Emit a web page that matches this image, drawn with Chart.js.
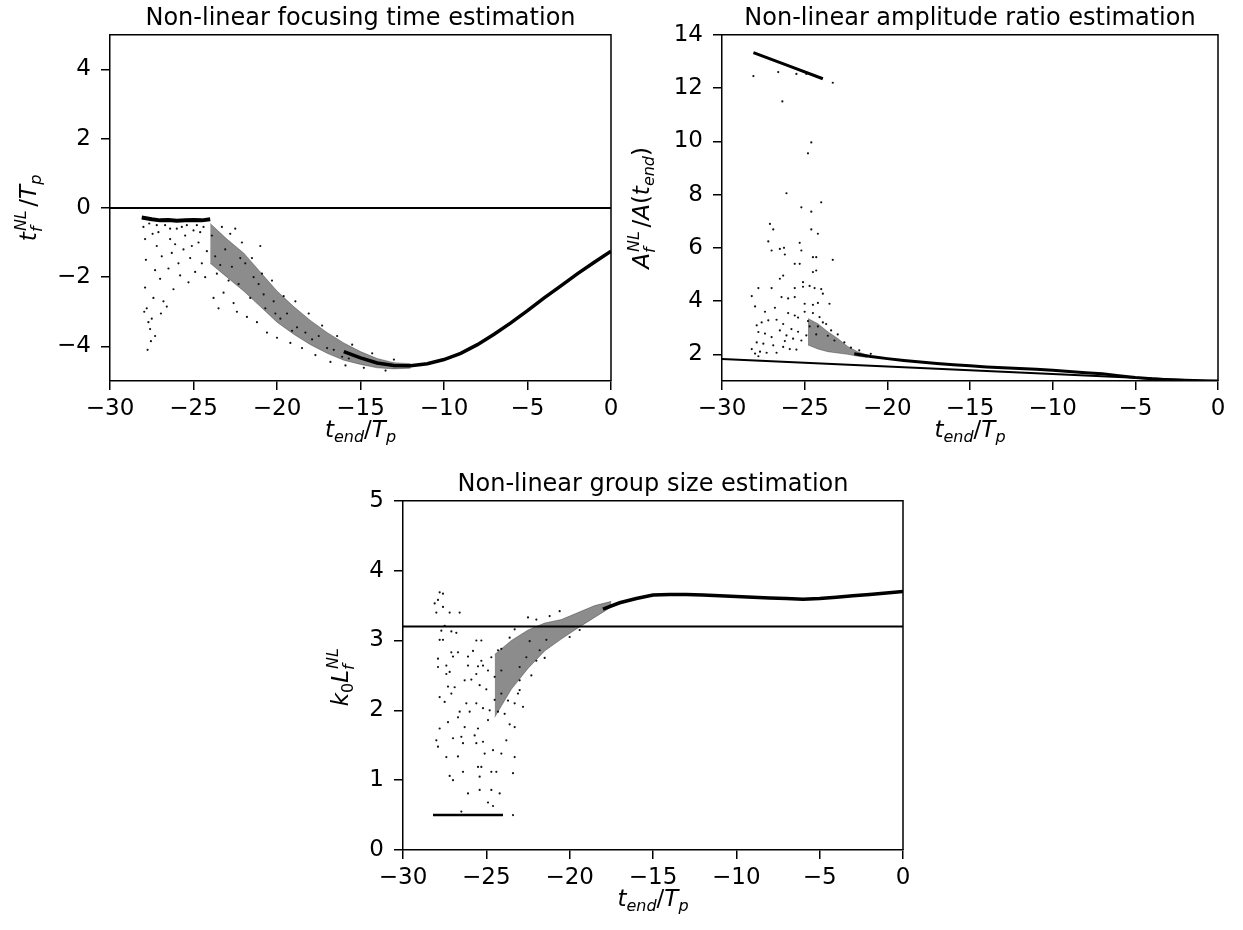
<!DOCTYPE html>
<html><head><meta charset="utf-8">
<script src="https://cdn.jsdelivr.net/npm/chart.js@4.4.1/dist/chart.umd.min.js"></script>
<style>
html,body{margin:0;padding:0;background:#fff;overflow:hidden;width:1243px;height:930px;position:relative}
canvas{position:absolute}
</style></head><body>
<canvas id="c1" width="721" height="470" style="left:0px;top:0px"></canvas>
<canvas id="c2" width="700" height="470" style="left:620px;top:0px"></canvas>
<canvas id="c3" width="706" height="464" style="left:300px;top:466px"></canvas>
<script>
// ---------- text ----------
const title1 = 'Non-linear focusing time estimation';
const title2 = 'Non-linear amplitude ratio estimation';
const title3 = 'Non-linear group size estimation';
const xLabelRuns = [['t','i'],['end','sb'],['/','r'],['T','i'],['p','sb']];
const y1LabelRuns = [['t','i'],['NL|f','ss'],['/','r'],['T','i'],['p','sb']];
const y2LabelRuns = [['A','i'],['NL|f','ss'],['/','r'],['A','i'],['(','r'],['t','i'],['end','sb'],[')','r']];
const y3LabelRuns = [['k','i'],['0','sbr'],['L','i'],['NL|f','ss']];

// ---------- tick values ----------
const xTicks = [-30, -25, -20, -15, -10, -5, 0];
const y1Ticks = [-4, -2, 0, 2, 4];
const y2Ticks = [2, 4, 6, 8, 10, 12, 14];
const y3Ticks = [0, 1, 2, 3, 4, 5];

// ---------- chart 1: focusing time ----------
const tfZeroX = [-30, 0];
const tfZeroY = [0, 0];
const tfFlatX = [-28.1, -27.5, -27, -26.5, -26, -25.5, -25, -24.5, -24.0];
const tfFlatY = [-0.28, -0.33, -0.36, -0.35, -0.37, -0.36, -0.35, -0.36, -0.33];
const tfBandX = [-24, -23, -22, -21, -20, -19, -18, -17, -16, -15, -14, -13, -12];
const tfBandHi = [-0.45, -0.9, -1.3, -1.85, -2.4, -2.85, -3.25, -3.6, -3.9, -4.15, -4.35, -4.47, -4.5];
const tfBandLo = [-1.6, -2.0, -2.4, -2.85, -3.3, -3.65, -3.95, -4.2, -4.4, -4.52, -4.62, -4.65, -4.63];
const tfCurveX = [-16, -15, -14, -13, -12, -11, -10, -9, -8, -7, -6, -5, -4, -3, -2, -1, 0];
const tfCurveY = [-4.15, -4.33, -4.48, -4.55, -4.56, -4.5, -4.38, -4.2, -3.95, -3.65, -3.32, -2.97, -2.6, -2.25, -1.9, -1.57, -1.25];
const tfDots = [
[-28.0,-0.55],[-27.9,-0.9],[-27.85,-1.5],[-27.9,-2.3],[-27.8,-2.9],[-27.7,-3.3],[-27.75,-4.1],[-27.6,-3.5],[-27.5,-3.2],[-27.55,-3.85],
[-27.4,-2.6],[-27.3,-1.8],[-27.2,-1.1],[-27.1,-0.7],[-27.0,-2.05],[-26.9,-1.4],[-26.8,-2.7],[-26.6,-2.85],[-26.5,-1.75],[-26.4,-0.9],
[-26.3,-1.3],[-26.2,-2.35],[-26.0,-0.6],[-25.9,-1.6],[-25.8,-1.95],[-25.6,-1.2],[-25.5,-0.8],[-25.3,-2.15],[-25.2,-1.45],[-25.0,-0.65],
[-24.9,-1.85],[-24.7,-1.0],[-24.5,-1.6],[-24.4,-0.55],[-24.3,-2.0],[-24.2,-1.25],[-27.65,-0.45],[-27.45,-0.75],[-26.7,-0.5],[-26.1,-1.05],
[-27.95,-3.0],[-27.3,-3.7],[-26.95,-3.05],[-25.7,-0.55],[-24.8,-0.5],[-25.1,-1.1],[-27.2,-0.5],[-26.4,-0.6],[-25.4,-0.5],[-24.6,-0.7],
[-23.8,-2.6],[-23.5,-2.9],[-23.3,-0.55],[-23.2,-2.45],[-22.8,-0.75],[-22.6,-2.75],[-22.4,-3.0],[-22.1,-1.0],[-21.8,-3.15],[-21.5,-1.45],
[-21.2,-3.3],[-20.9,-1.9],[-20.6,-3.6],[-20.3,-2.1],[-20.0,-3.75],[-19.6,-2.55],[-19.2,-3.9],[-18.9,-2.7],[-18.5,-4.05],[-18.1,-3.05],
[-17.7,-4.25],[-17.3,-3.4],[-16.8,-4.45],[-16.4,-3.7],[-15.9,-4.55],[-15.5,-3.95],[-14.8,-4.62],[-14.3,-4.2],[-13.5,-4.7],[-13.0,-4.38],
[-23.9,-0.8],[-23.6,-1.9],[-23.1,-1.2],[-22.7,-1.7],[-22.3,-2.2],[-21.9,-1.6],[-21.6,-2.6],[-21.1,-2.2],[-20.7,-2.9],[-20.2,-2.7],
[-19.8,-3.2],[-19.4,-3.05],[-18.8,-3.45],[-18.3,-3.6],[-17.9,-3.8],[-17.5,-3.7],[-17.0,-4.05],[-16.6,-4.1],[-16.1,-4.3],[-15.7,-4.35],
[-22.5,-0.6],[-21.0,-1.1],[-23.7,-1.4],[-23.4,-1.65],[-22.9,-2.1],[-22.2,-1.45],[-21.4,-2.0],[-20.8,-2.5],[-20.1,-3.05],[-19.1,-3.55]
];

// ---------- chart 2: amplitude ratio ----------
const arLineX = [-30, 0];
const arLineY = [1.83, 0.98];
const arTopX = [-28.1, -26.0, -23.9];
const arTopY = [13.33, 12.84, 12.35];
const arBandX = [-24.8, -24.2, -23.6, -23.0, -22.4, -21.8, -21.2];
const arBandHi = [3.35, 3.15, 2.85, 2.6, 2.3, 2.1, 1.97];
const arBandLo = [2.35, 2.2, 2.1, 2.05, 2.0, 1.93, 1.88];
const arCurveX = [-22, -21, -20, -19, -18, -17, -16, -15, -14, -13, -12, -11, -10, -9, -8, -7, -6, -5, -4, -3, -2, -1, 0];
const arCurveY = [2.02, 1.92, 1.84, 1.77, 1.71, 1.66, 1.61, 1.57, 1.53, 1.5, 1.47, 1.44, 1.4, 1.36, 1.31, 1.27, 1.2, 1.13, 1.08, 1.05, 1.03, 1.01, 1.0];
const arDots = [
[-28.1,12.45],[-26.6,12.6],[-25.5,12.53],[-24.9,12.53],[-23.3,12.2],[-26.35,11.5],[-24.6,9.96],[-24.8,9.55],[-26.1,8.05],[-25.2,7.52],
[-24.0,7.71],[-24.6,7.36],[-27.1,6.9],[-26.9,6.69],[-24.6,6.69],[-24.2,6.53],[-27.2,6.24],[-25.3,6.19],[-27.0,5.9],[-26.5,5.96],
[-26.25,6.0],[-25.2,5.9],[-24.5,5.65],[-24.3,5.65],[-26.2,5.75],[-25.6,5.4],[-25.3,5.4],[-24.5,5.09],[-24.3,5.15],[-23.3,5.55],
[-26.5,4.84],[-26.3,4.96],[-27.8,4.49],[-27.0,4.49],[-25.6,4.49],[-25.1,4.71],[-25.1,4.54],[-24.7,4.57],[-24.4,4.49],[-24.0,4.45],
[-23.9,4.28],[-28.2,4.19],[-26.4,4.15],[-26.0,4.1],[-25.6,4.15],[-28.0,3.8],[-25.0,3.9],[-24.5,3.86],[-24.2,3.93],[-23.5,3.9],
[-27.9,3.09],[-27.6,3.2],[-27.2,3.28],[-26.7,3.3],[-26.3,3.14],[-25.6,3.46],[-25.4,3.38],[-25.0,3.6],[-24.5,3.55],[-24.1,3.4],
[-23.9,3.2],[-27.8,2.84],[-27.4,2.78],[-27.0,2.65],[-26.5,2.9],[-26.1,2.71],[-25.7,2.59],[-25.2,2.52],[-24.9,2.71],[-27.9,2.45],
[-27.5,2.4],[-26.9,2.34],[-26.3,2.28],[-25.9,2.2],[-28.2,2.2],[-28.0,2.03],[-27.8,1.93],[-27.7,2.1],[-27.3,2.06],[-26.7,2.06],
[-25.5,2.18],[-23.7,3.14],[-23.4,2.9],[-23.2,2.52],[-27.4,3.6],[-26.8,3.75],[-26.0,3.55],[-25.8,2.95],[-24.7,3.05],[-24.3,2.75],
[-23.0,2.75],[-22.6,2.45],[-22.2,2.25],[-21.7,2.15],[-21.0,2.02],[-26.2,2.5],[-25.4,2.85],[-24.8,3.25],[-24.2,3.05],[-23.6,2.7]
];

// ---------- chart 3: group size ----------
const ksRefX = [-30, 0];
const ksRefY = [3.2, 3.2];
const ksFlatX = [-28.2, -26.0, -24.0];
const ksFlatY = [0.5, 0.5, 0.5];
const ksBandX = [-24.5, -23.5, -22.5, -21.5, -20.5, -19.5, -18.5, -17.5];
const ksBandHi = [2.8, 3.0, 3.15, 3.25, 3.3, 3.4, 3.5, 3.56];
const ksBandLo = [1.9, 2.3, 2.6, 2.85, 3.02, 3.18, 3.33, 3.48];
const ksCurveX = [-18, -17, -16, -15, -14, -13, -12, -11, -10, -9, -8, -7, -6, -5, -4, -3, -2, -1, 0];
const ksCurveY = [3.45, 3.54, 3.6, 3.65, 3.66, 3.66, 3.65, 3.64, 3.63, 3.62, 3.61, 3.6, 3.59, 3.6, 3.62, 3.64, 3.66, 3.68, 3.7];
const ksDots = [
[-27.8,3.69],[-27.6,3.67],[-28.1,3.53],[-27.9,3.58],[-27.6,3.48],[-28.0,3.4],[-27.2,3.4],[-26.6,3.4],[-27.5,3.21],[-27.7,3.14],
[-27.1,3.13],[-26.8,3.11],[-27.8,3.01],[-27.6,3.01],[-25.6,3.0],[-25.3,3.0],[-27.1,2.83],[-26.7,2.83],[-25.8,2.85],[-27.9,2.74],
[-27.0,2.77],[-26.1,2.77],[-27.4,2.64],[-27.9,2.62],[-26.1,2.64],[-25.5,2.63],[-25.2,2.64],[-27.4,2.52],[-27.2,2.55],[-26.3,2.43],
[-25.9,2.44],[-25.6,2.52],[-27.3,2.34],[-26.9,2.33],[-25.4,2.36],[-27.8,2.19],[-27.5,2.12],[-27.1,2.24],[-26.2,2.1],[-26.6,1.98],
[-26.0,1.98],[-25.6,2.1],[-25.2,2.03],[-27.3,1.83],[-26.7,1.9],[-27.8,1.74],[-26.3,1.76],[-25.5,1.74],[-24.9,1.86],[-27.0,1.6],
[-26.5,1.62],[-25.7,1.64],[-25.2,1.55],[-28.0,1.57],[-27.9,1.48],[-26.4,1.53],[-25.6,1.53],[-27.4,1.33],[-26.7,1.34],[-25.1,1.38],
[-24.6,1.43],[-25.5,1.19],[-25.3,1.19],[-27.2,1.06],[-27.0,1.0],[-26.4,1.12],[-24.7,1.12],[-25.4,1.05],[-24.4,1.12],[-26.1,0.81],
[-25.4,0.86],[-24.7,0.86],[-24.2,0.81],[-24.9,0.68],[-24.6,0.63],[-23.4,0.5],[-26.5,0.55],[-23.4,1.1],[-23.3,1.33],[-23.3,1.76],
[-23.8,1.57],[-24.1,1.38],[-23.9,1.95],[-24.3,1.98],[-24.5,2.15],[-24.1,2.24],[-23.7,2.14],[-23.3,2.1],[-23.1,2.24],[-24.5,2.48],
[-24.1,2.57],[-24.9,2.57],[-24.3,2.86],[-25.3,2.71],[-24.7,2.76],[-24.1,2.88],[-23.3,3.16],[-23.6,3.04],[-22.5,3.33],[-22.4,2.99],
[-22.0,2.71],[-23.0,2.62],[-22.6,2.76],[-21.8,2.86],[-21.4,3.01],[-23.0,2.43],[-23.0,2.29],[-22.0,3.3],[-21.2,3.35],[-20.6,3.42],
[-20.0,3.05],[-19.4,3.15],[-21.5,2.75],[-25.0,2.3],[-24.8,2.0],[-23.6,1.8],[-22.8,2.05],[-22.3,2.5]
];

// ---------- helpers ----------
const FAM = '"DejaVu Sans", sans-serif';
const pts = (xs, ys) => xs.map((x, i) => ({x: x, y: ys[i]}));
const pairs = arr => arr.map(p => ({x: p[0], y: p[1]}));
const fmt = v => (v < 0 ? '\u2212' + Math.abs(v) : String(v));

function lineDs(data, w) {
  return {data: data, showLine: true, borderColor: '#000', borderWidth: w, pointRadius: 0, fill: false, tension: 0};
}
function bandDs(hi, lo) {
  return [
    {data: hi, showLine: true, borderColor: 'rgba(0,0,0,0.3)', borderWidth: 1, pointRadius: 0, fill: false},
    {data: lo, showLine: true, borderColor: 'rgba(0,0,0,0.3)', borderWidth: 1, pointRadius: 0, fill: '-1', backgroundColor: 'rgba(0,0,0,0.45)'}
  ];
}
function dotDs(data) {
  return {data: data, showLine: false, pointRadius: 1.1, pointBorderWidth: 0, pointBackgroundColor: '#111', borderColor: '#111'};
}
function axis(min, max, ticks, isX, size) {
  return {
    type: 'linear', min: min, max: max,
    afterBuildTicks: s => { s.ticks = ticks.map(v => ({value: v})); },
    afterFit: s => { if (isX) s.height = size; else s.width = size; },
    border: {display: true, color: '#000', width: 1.5},
    grid: {display: true, drawOnChartArea: false, drawTicks: true, tickLength: 9, color: '#000', lineWidth: 1.5},
    ticks: {color: '#000', font: {family: 'DejaVu Sans', size: 23}, padding: isX ? 5 : 10,
            maxRotation: 0, autoSkip: false, callback: v => fmt(v)}
  };
}
function spacer(size) {
  return {
    type: 'linear', position: 'right', display: true,
    afterFit: s => { s.width = size; },
    border: {display: false}, grid: {display: false, drawTicks: false}, ticks: {display: false}
  };
}
function drawMath(ctx, runs, ax, ay, rotated, size) {
  const sm = Math.round(size * 0.7);
  const F = (it, sz) => (it ? 'italic ' : '') + sz + 'px ' + FAM;
  const pieces = [];
  let w = 0;
  ctx.save();
  for (const [txt, kind] of runs) {
    if (kind === 'ss') {
      const [sup, sub] = txt.split('|');
      const f = F(true, sm);
      ctx.font = f;
      const w1 = ctx.measureText(sup).width, w2 = ctx.measureText(sub).width;
      pieces.push({t: sup, f: f, dx: w + 1, dy: -0.42 * size});
      pieces.push({t: sub, f: f, dx: w, dy: 0.28 * size});
      w += Math.max(w1, w2) + 0.2 * size;
    } else {
      const it = (kind === 'i' || kind === 'sb' || kind === 'sp');
      const sz = (kind === 'r' || kind === 'i') ? size : sm;
      const f = F(it, sz);
      ctx.font = f;
      const dy = (kind === 'sb' || kind === 'sbr') ? 0.22 * size : (kind === 'sp' ? -0.42 * size : 0);
      pieces.push({t: txt, f: f, dx: w, dy: dy});
      w += ctx.measureText(txt).width;
    }
  }
  ctx.translate(ax, ay);
  if (rotated) ctx.rotate(-Math.PI / 2);
  ctx.fillStyle = '#000';
  ctx.textBaseline = 'alphabetic';
  ctx.textAlign = 'left';
  for (const p of pieces) { ctx.font = p.f; ctx.fillText(p.t, -w / 2 + p.dx, p.dy); }
  ctx.restore();
}
function decorPlugin(yRuns, yOffset) {
  return {
    id: 'decor',
    afterDraw(chart) {
      const ctx = chart.ctx, a = chart.chartArea;
      ctx.save();
      ctx.strokeStyle = '#000';
      ctx.lineWidth = 1.5;
      ctx.beginPath();
      ctx.moveTo(a.left, a.top); ctx.lineTo(a.right, a.top); ctx.lineTo(a.right, a.bottom);
      ctx.stroke();
      ctx.restore();
      drawMath(ctx, xLabelRuns, (a.left + a.right) / 2, a.bottom + 56, false, 23);
      drawMath(ctx, yRuns, a.left - yOffset, (a.top + a.bottom) / 2, true, 23);
    }
  };
}
function makeChart(id, datasets, yMin, yMax, yTicks, yWidth, rightW, xHeight, title, yRuns, yOffset) {
  return new Chart(document.getElementById(id), {
    type: 'line',
    data: {datasets: datasets},
    options: {
      responsive: false, animation: false, events: [], devicePixelRatio: 1,
      layout: {padding: 0},
      plugins: {
        legend: {display: false}, tooltip: {enabled: false},
        title: {display: true, text: title, color: '#000', font: {family: 'DejaVu Sans', size: 24, weight: 'normal'},
                padding: {top: 4, bottom: 2}}
      },
      scales: {
        x: axis(-30, 0, xTicks, true, xHeight),
        y: axis(yMin, yMax, yTicks, false, yWidth),
        yPad: spacer(rightW)
      }
    },
    plugins: [decorPlugin(yRuns, yOffset)]
  });
}

makeChart('c1', [
  lineDs(pts(tfZeroX, tfZeroY), 2),
  lineDs(pts(tfFlatX, tfFlatY), 4),
  lineDs(pts(tfCurveX, tfCurveY), 3.5),
  dotDs(pairs(tfDots)),
  ...bandDs(pts(tfBandX, tfBandHi), pts(tfBandX, tfBandLo))
], -5, 5, y1Ticks, 110, 110, 89, title1, y1LabelRuns, 74);

makeChart('c2', [
  lineDs(pts(arLineX, arLineY), 2),
  lineDs(pts(arTopX, arTopY), 3),
  lineDs(pts(arCurveX, arCurveY), 3),
  dotDs(pairs(arDots)),
  ...bandDs(pts(arBandX, arBandHi), pts(arBandX, arBandLo))
], 1, 14, y2Ticks, 102, 102, 89, title2, y2LabelRuns, 73);

makeChart('c3', [
  lineDs(pts(ksRefX, ksRefY), 2),
  lineDs(pts(ksFlatX, ksFlatY), 2.5),
  lineDs(pts(ksCurveX, ksCurveY), 3.5),
  dotDs(pairs(ksDots)),
  ...bandDs(pts(ksBandX, ksBandHi), pts(ksBandX, ksBandLo))
], 0, 5, y3Ticks, 103, 103, 80, title3, y3LabelRuns, 55);
</script>
</body></html>
